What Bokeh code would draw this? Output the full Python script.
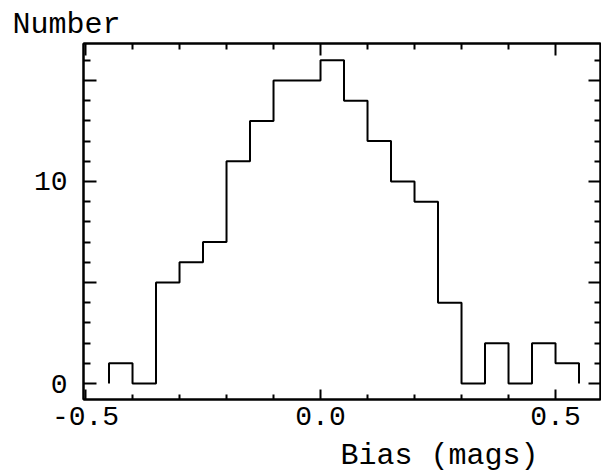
from bokeh.plotting import figure
from bokeh.layouts import column
from bokeh.models import LinearAxis, FixedTicker, Range1d, Title
from bokeh.core.properties import value
from bokeh.embed import file_html
from bokeh.resources import INLINE

# ---- data ----
bin_edges = [-0.45, -0.40, -0.35, -0.30, -0.25, -0.20, -0.15, -0.10, -0.05, 0.00,
             0.05, 0.10, 0.15, 0.20, 0.25, 0.30, 0.35, 0.40, 0.45, 0.50, 0.55]
counts = [1, 0, 5, 6, 7, 11, 13, 15, 15, 16, 14, 12, 10, 9, 4, 0, 2, 0, 2, 1]

x_major_ticks = [-0.5, 0.0, 0.5]
x_minor_ticks = [-0.4, -0.3, -0.2, -0.1, 0.1, 0.2, 0.3, 0.4, 0.6]
y_major_ticks = [0, 5, 10, 15]
y_minor_ticks = [1, 2, 3, 4, 6, 7, 8, 9, 11, 12, 13, 14, 16]
y_tick_labels = {0: "0", 5: "", 10: "10", 15: ""}
x_tick_labels = {-0.5: "-0.5", 0.0: "0.0", 0.5: "0.5"}
x_title = "Bias (mags)"
y_title = "Number"

FONT = "Liberation Mono"

p = figure(width=601, height=432, output_backend="svg", toolbar_location=None,
           x_range=Range1d(-0.5043, 0.5957), y_range=Range1d(-0.79, 16.83),
           min_border_left=83, min_border_top=43, min_border_bottom=33,
           min_border_right=1)
p.background_fill_color = "white"
p.border_fill_color = "white"
p.outline_line_color = "black"
p.outline_line_width = 2
p.xgrid.visible = False
p.ygrid.visible = False

def style_axis(ax, ticks, minor, major_in, minor_in, labels=None):
    ax.ticker = FixedTicker(ticks=ticks, minor_ticks=minor)
    ax.axis_line_color = "black"
    ax.axis_line_width = 2
    ax.major_tick_in = major_in
    ax.major_tick_out = 0
    ax.minor_tick_in = minor_in
    ax.minor_tick_out = 0
    ax.major_tick_line_width = 2
    ax.minor_tick_line_width = 2
    ax.major_tick_line_color = "black"
    ax.minor_tick_line_color = "black"
    if labels is not None:
        ax.major_label_overrides = labels
        ax.major_label_text_font = FONT
        ax.major_label_text_font_size = "28px"
        ax.major_label_text_color = "black"
    else:
        ax.major_label_overrides = {t: "" for t in ticks}
        ax.major_label_text_font_size = "1px"
        ax.major_label_standoff = 0

# bottom / left
xa = p.xaxis[0]
style_axis(xa, x_major_ticks, x_minor_ticks, 10, 5, x_tick_labels)
xa.major_label_standoff = 7
ya = p.yaxis[0]
style_axis(ya, y_major_ticks, y_minor_ticks, 13, 7, y_tick_labels)
ya.major_label_standoff = 16

# top / right
top = LinearAxis()
style_axis(top, x_major_ticks, x_minor_ticks, 12, 6)
p.add_layout(top, "above")
right = LinearAxis()
style_axis(right, y_major_ticks, y_minor_ticks, 12, 6)
p.add_layout(right, "right")

# step outline of histogram
xs = [bin_edges[0]]
ys = [0]
for i, c in enumerate(counts):
    xs += [bin_edges[i], bin_edges[i + 1]]
    ys += [c, c]
xs.append(bin_edges[-1])
ys.append(0)
p.line(xs, ys, line_color="black", line_width=2)

# y title
t_top = Title(text=y_title, align="left", offset=-71, standoff=3,
              text_font=FONT, text_font_size="30px", text_font_style="normal",
              text_color="black")
p.add_layout(t_top, "above")

# x title strip below the plot (pixel space)
q = figure(width=601, height=40, output_backend="svg", toolbar_location=None,
           x_range=Range1d(0, 601), y_range=Range1d(0, 40),
           min_border=0, x_axis_type=None, y_axis_type=None)
q.outline_line_color = None
q.background_fill_color = "white"
q.border_fill_color = "white"
q.xgrid.visible = False
q.ygrid.visible = False
q.text(x=[529], y=[17], text=[x_title], text_font=value(FONT),
       text_font_size="30px", text_align="right", text_baseline="middle",
       text_color="black")

layout = column(p, q, spacing=0)
open("out.html", "w").write(file_html(layout, INLINE))
